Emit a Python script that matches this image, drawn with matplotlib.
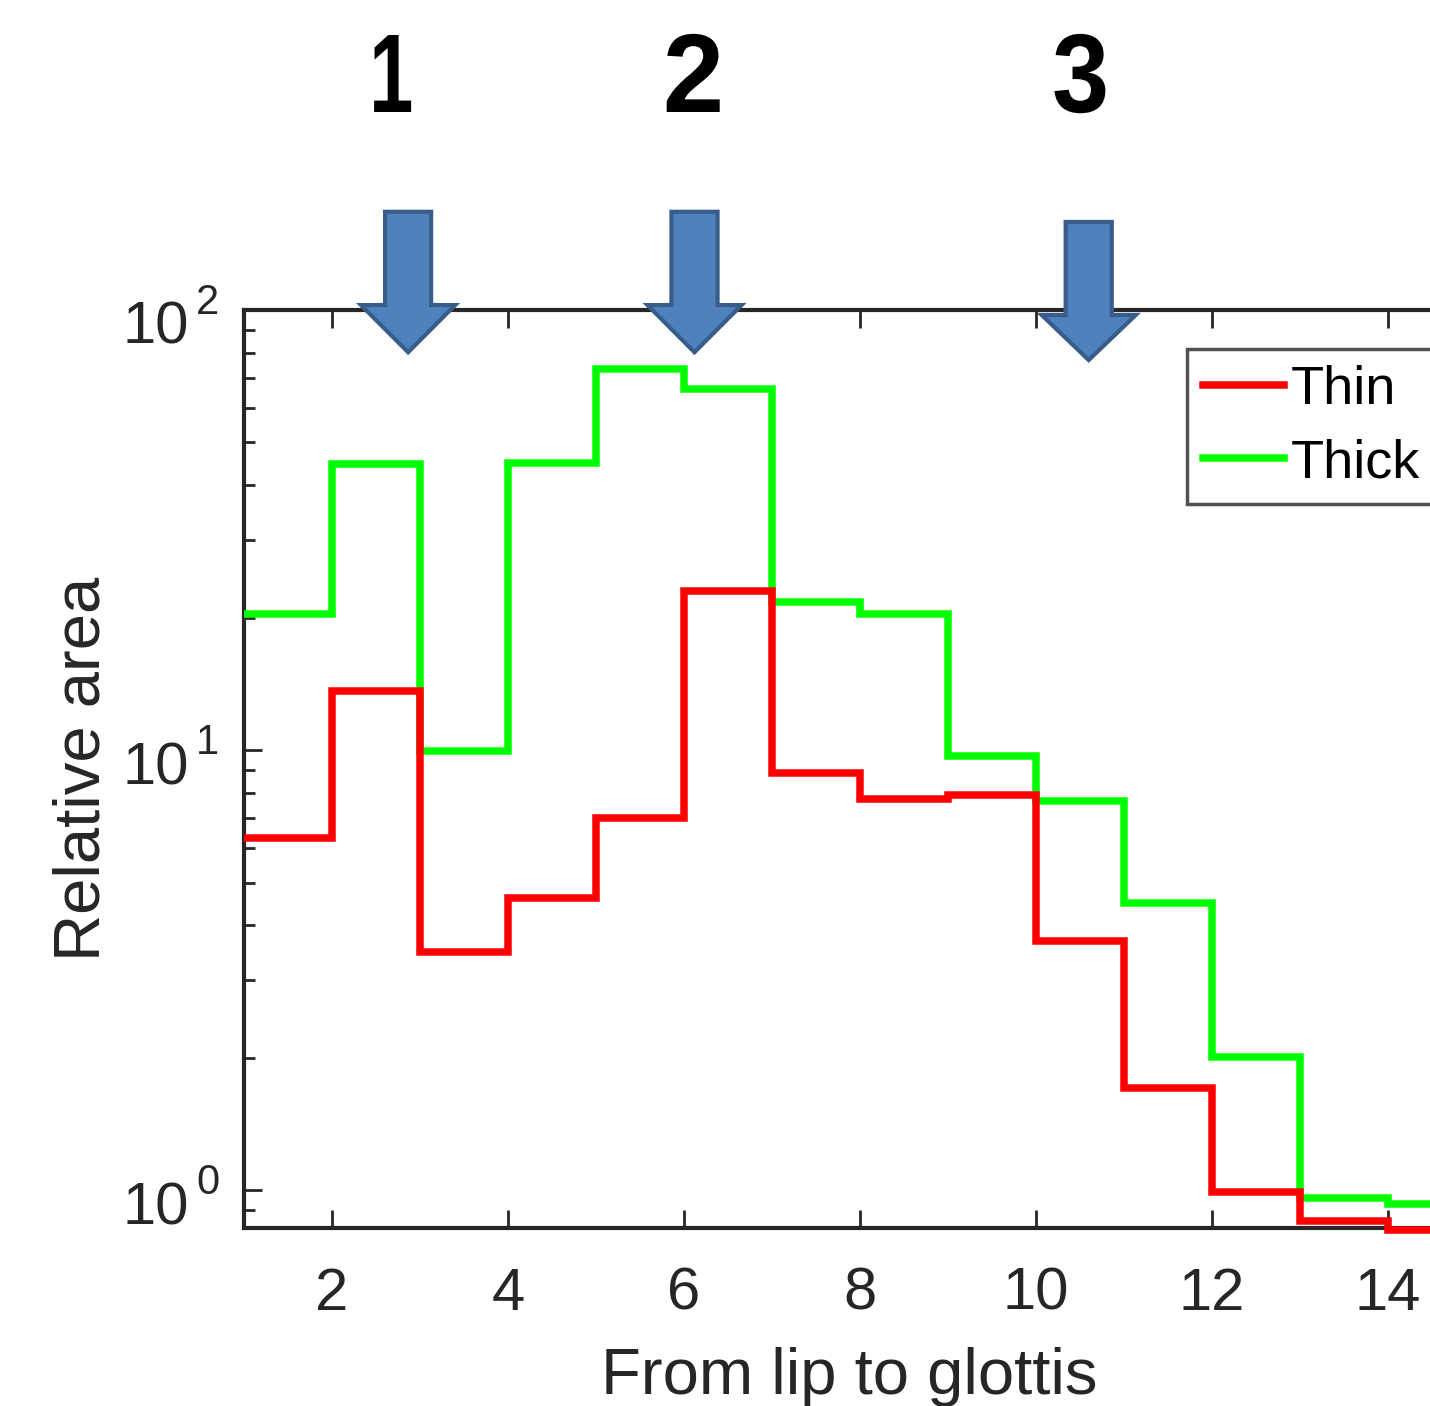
import numpy as np
import matplotlib
matplotlib.use("Agg")
import matplotlib.pyplot as plt
from matplotlib.patches import Polygon, PathPatch
from matplotlib.transforms import blended_transform_factory, Affine2D
from matplotlib.textpath import TextPath
from matplotlib.font_manager import FontProperties

plt.rcParams['font.family'] = ['Liberation Sans', 'DejaVu Sans']

# Data
edges = list(range(1, 16))
thin = [6.3, 13.6, 3.47, 4.62, 7.0, 23.0, 8.86, 7.73, 7.9, 3.69, 1.71, 0.99, 0.85, 0.81]
thick = [20.4, 44.6, 9.95, 45.0, 73.4, 66.1, 21.7, 20.4, 9.69, 7.65, 4.48, 2.01, 0.96, 0.93]
series_names = ["Thin", "Thick"]
series_colors = ["#FF0000", "#00FF00"]
x_ticks = [2, 4, 6, 8, 10, 12, 14]
y_ticks = [1, 10, 100]
y_exponents = ["0", "1", "2"]
arrow_x = [2.865, 6.12, 10.6]
arrow_labels = ["1", "2", "3"]
label_x = [2.689, 6.105, 10.5]
label_widths_px = [37, 53, 51]

dark = "#262626"
fig = plt.figure(figsize=(14.30, 14.06), dpi=100)
ppu = 87.99
ax = fig.add_axes([244/1430, 1-1228/1406, 13.75*ppu/1430, 918/1406])
ax.set_yscale('log')

h2 = ax.stairs(thick, edges, color=series_colors[1], lw=5.4, label=series_names[1], baseline=None, clip_on=False, zorder=3)
h1 = ax.stairs(thin, edges, color=series_colors[0], lw=5.4, label=series_names[0], baseline=None, clip_on=False, zorder=3)

ax.set_xlim(1, 14.75)
ax.set_ylim(0.82, 100)
ax.set_xticks(x_ticks)
ax.set_yticks(y_ticks)
ax.set_yticklabels([])
ax.tick_params(axis='both', which='major', direction='in', length=13, width=2, labelsize=43,
               colors=dark, top=True, right=True)
ax.tick_params(axis='y', which='minor', direction='in', length=8, width=2, colors=dark, right=True,
               labelleft=False)
ax.tick_params(axis='x', which='major', pad=28)
for s in ax.spines.values():
    s.set_linewidth(3)
    s.set_color(dark)

# y tick labels: base and exponent like the reference
trans_ay = blended_transform_factory(ax.transAxes, ax.transData)
for v, e in zip(y_ticks, y_exponents):
    ax.annotate("10", xy=(0, v), xycoords=trans_ay, xytext=(-55, -34), textcoords='offset pixels',
                ha='right', va='baseline', fontsize=43, color=dark, annotation_clip=False)
    ax.annotate(e, xy=(0, v), xycoords=trans_ay, xytext=(-48, -4), textcoords='offset pixels',
                ha='left', va='baseline', fontsize=30, color=dark, annotation_clip=False)

ax.set_xlabel("From lip to glottis", fontsize=47, color=dark, labelpad=18)
ax.set_ylabel("Relative area", fontsize=47, color=dark)
ax.yaxis.set_label_coords((112 - 244) / (13.75 * ppu), 0.5)

leg = ax.legend([h1, h2], series_names, loc='upper left',
                bbox_to_anchor=((1187 - 244) / (13.75 * ppu), 0.9575),
                borderaxespad=0, fontsize=39, handlelength=1.5, handletextpad=0.12,
                frameon=True, fancybox=False, edgecolor=dark, borderpad=0.3, labelspacing=0.42)
leg.get_frame().set_linewidth(2.5)
for line in leg.get_lines():
    line.set_linewidth(5.4)

trans = blended_transform_factory(ax.transData, ax.transAxes)
shaft_hw = 0.262
head_hw = 0.535
tops = [1.107, 1.107, 1.0959]
bases = [1.0054, 1.0054, 0.9946]
tips = [0.954, 0.954, 0.9455]
for xc, t, b, tp in zip(arrow_x, tops, bases, tips):
    pts = [(xc - shaft_hw, t), (xc + shaft_hw, t), (xc + shaft_hw, b), (xc + head_hw, b),
           (xc, tp), (xc - head_hw, b), (xc - shaft_hw, b)]
    poly = Polygon(pts, closed=True, transform=trans, facecolor="#4F81BD", edgecolor="#385D8A",
                   lw=3, clip_on=False, zorder=5, joinstyle='miter')
    ax.add_patch(poly)

# Big bold labels, condensed as in the reference
fp = FontProperties(family='Liberation Sans', weight='bold')
ref1 = TextPath((0, 0), "1", size=100, prop=fp).get_extents()
sy = 77.0 / ref1.height
base_y = 1406 - 112
for xl, lab, wpx in zip(label_x, arrow_labels, label_widths_px):
    path = TextPath((0, 0), lab, size=100, prop=fp)
    ext = path.get_extents()
    sx = wpx / ext.width
    cx = ax.transData.transform((xl, 1))[0]
    tr = Affine2D().translate(-(ext.x0 + ext.width / 2), 0).scale(sx, sy).translate(cx, base_y)
    patch = PathPatch(path, transform=tr, facecolor='black', edgecolor='none')
    fig.add_artist(patch)

fig.savefig("out.png", dpi=100)
